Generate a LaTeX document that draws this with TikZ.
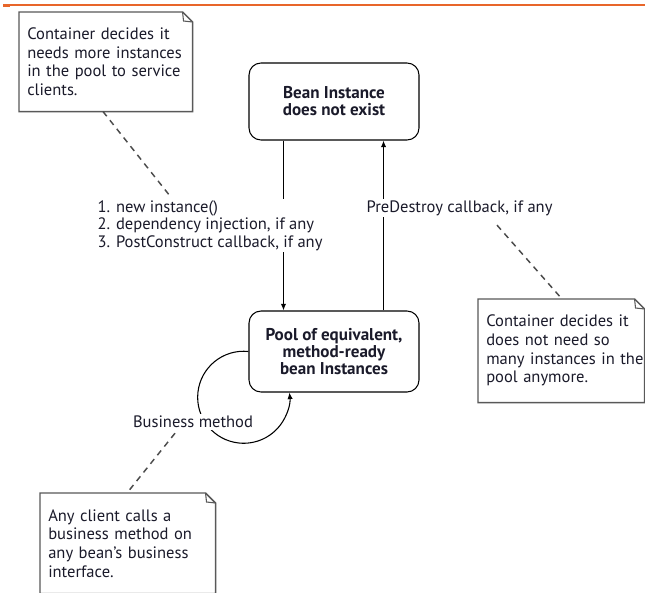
\documentclass[tikz,border=0pt]{standalone}
\usepackage{fontspec}
\setmainfont{PT Sans}
\usetikzlibrary{arrows.meta,calc}
\definecolor{topline}{HTML}{E8662A}
\definecolor{ink}{HTML}{1A1A2A}
\newcommand\nln[1]{\mbox{#1}}
\begin{document}
\begin{tikzpicture}[x=0.75pt,y=-0.75pt,
  every node/.style={text=ink, font=\fontsize{12.4}{14}\selectfont},
  state/.style={draw=black, line width=0.8pt, rounded corners=9pt, minimum width=127.5pt,
    align=center, font=\bfseries\fontsize{12.8}{12.8}\selectfont},
  notebox/.style={anchor=north west, inner xsep=6pt, inner ysep=0pt, align=left},
  noteline/.style={draw=black!65, line width=1.1pt, fill=white},
  flow/.style={draw=black, line width=0.8pt, -{Latex[length=5pt,width=4pt]}},
  link/.style={draw=black!70, line width=1.1pt, dash pattern=on 4.5pt off 3.8pt},
  lbl/.style={inner sep=1pt, fill=white, align=left, font=\fontsize{12.4}{13.1}\selectfont}
]
\useasboundingbox (0,0) rectangle (645,592);
\clip (0,0) rectangle (645,592);
\fill[white] (0,0) rectangle (645,592);

% top rule
\draw[topline, line width=1.2pt] (3,5) -- (645,5);
\draw[topline, line width=2pt] (3,6) -- (10,6);

% states
\node[state, minimum height=57.75pt] (bean) at (334,101.5) {Bean Instance\\does not exist};
\node[state, minimum height=60.75pt] (pool) at (334,351.5) {Pool of equivalent,\\method-ready\\bean Instances};

% transitions
\draw[flow] ($(bean.south west)+(35,0)$) -- ($(pool.north west)+(35,0)$);
\draw[flow] ($(pool.north east)+(-36,0)$) -- ($(bean.south east)+(-36,0)$);

% labels
\node[lbl, anchor=north west] (lab1) at (96,199)
  {1. new instance()\\2. dependency injection, if any\\3. PostConstruct callback, if any};
\node[lbl, anchor=west] (lab2) at (365,208) {PreDestroy callback, if any};

% self loop
\draw[flow] (pool.west) arc[start angle=84, end angle=366, radius=34.5pt];
\node[lbl, inner sep=1.5pt] (bm) at (193,422) {Business method};

% notes
\node[notebox, text width=117.75pt, minimum width=129.75pt, minimum height=74.25pt] (n1) at (19,12)
  {\nln{Container decides it}\\\nln{needs more instances}\\\nln{in the pool to service}\\clients.};
\node[notebox, text width=112.5pt, minimum width=124.5pt, minimum height=77.25pt] (n2) at (478,299)
  {\nln{Container decides it}\\\nln{does not need so}\\\nln{many instances in the}\\\nln{pool anymore.}};
\node[notebox, text width=119.25pt, minimum width=131.25pt, minimum height=75pt] (n3) at (40,493)
  {\nln{Any client calls a}\\\nln{business method on}\\\nln{any bean’s business}\\interface.};

\foreach \n in {n1,n2,n3}{
  \draw[noteline] (\n.north west) -- ($(\n.north east)+(-10,0)$) -- ($(\n.north east)+(0,10)$)
     -- (\n.south east) -- (\n.south west) -- cycle;
  \draw[draw=black!65, line width=0.8pt] ($(\n.north east)+(-10,0)$) -- ($(\n.north east)+(-9,9)$) -- ($(\n.north east)+(0,10)$);
}
% note texts above their outlines
\node[notebox, text width=117.75pt, minimum width=129.75pt, minimum height=74.25pt] at (n1.north west)
  {\nln{Container decides it}\\\nln{needs more instances}\\\nln{in the pool to service}\\clients.};
\node[notebox, text width=112.5pt, minimum width=124.5pt, minimum height=77.25pt] at (n2.north west)
  {\nln{Container decides it}\\\nln{does not need so}\\\nln{many instances in the}\\\nln{pool anymore.}};
\node[notebox, text width=119.25pt, minimum width=131.25pt, minimum height=75pt] at (n3.north west)
  {\nln{Any client calls a}\\\nln{business method on}\\\nln{any bean’s business}\\interface.};

% dashed links
\draw[link] ($(n1.south west)+(84,0)$) -- ($(lab1.north west)+(74,-3)$);
\draw[link] ($(lab2.south west)+(132,8)$) -- ($(n2.north west)+(84,0)$);
\draw[link] ($(bm.south)+(-18,3)$) -- ($(n3.north west)+(87,0)$);
\end{tikzpicture}
\end{document}
